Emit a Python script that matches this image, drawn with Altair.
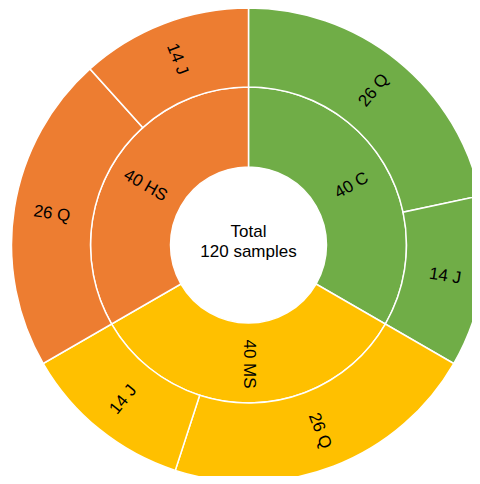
import altair as alt
import pandas as pd

# Inner ring
inner_labels = ["C", "MS", "HS"]
inner_values = [40, 40, 40]

# Outer ring
outer_parents = ["C", "C", "MS", "MS", "HS", "HS"]
outer_labels = ["Q", "J", "Q", "J", "Q", "J"]
outer_values = [26, 14, 26, 14, 26, 14]

group_colors = ["#70AD47", "#FFC000", "#ED7D31"]

total = sum(inner_values)


def ring_frame(parents, labels, values, ring):
    rows = []
    cum = 0
    for p, l, v in zip(parents, labels, values):
        rows.append({"ring": ring, "parent": p, "label": f"{v} {l}",
                     "start": cum, "end": cum + v, "mid": cum + v / 2})
        cum += v
    return rows


df = pd.DataFrame(ring_frame(inner_labels, inner_labels, inner_values, "inner")
                  + ring_frame(outer_parents, outer_labels, outer_values, "outer"))

CX, CY = 240.5, 237
theta_scale = alt.Scale(domain=[0, total], range=[0, 6.283185307179586])
color_scale = alt.Scale(domain=inner_labels, range=group_colors)

base = alt.Chart(df).transform_calculate(
    rot="datum.mid * 360 / %d - 90" % total
).transform_calculate(
    ang="((datum.rot > 90 ? datum.rot - 180 : datum.rot) + 360) % 360"
)

def arcs(ring, r_out, r_in):
    return base.transform_filter(alt.datum.ring == ring).mark_arc(
        radius=r_out, radius2=r_in, stroke="white", strokeWidth=1.5
    ).encode(
        theta=alt.Theta("start:Q", stack=None, scale=theta_scale),
        theta2="end:Q",
        color=alt.Color("parent:N", scale=color_scale, legend=None),
        x=alt.value(CX), y=alt.value(CY),
    )

def labels(ring, r):
    return base.transform_filter(alt.datum.ring == ring).mark_text(
        radius=r, font="Liberation Sans", fontSize=17, color="black",
        align="center", baseline="middle"
    ).encode(
        theta=alt.Theta("mid:Q", stack=None, scale=theta_scale),
        text="label:N",
        angle=alt.Angle("ang:Q", scale=None),
        x=alt.value(CX), y=alt.value(CY),
    )

center = alt.Chart(pd.DataFrame({"t": [f"Total\n{total} samples"]})).mark_text(
    font="Liberation Sans", fontSize=17, color="black", lineBreak="\n",
    lineHeight=20, align="center", baseline="middle"
).encode(text="t:N", x=alt.value(CX), y=alt.value(CY - 13))

chart = alt.layer(
    arcs("inner", 158, 78), arcs("outer", 237, 158),
    labels("inner", 119), labels("outer", 199), center
).properties(
    width=464, height=468, padding=0,
    autosize=alt.AutoSizeParams(type="none"), background="white"
).configure_view(strokeWidth=0)

chart.save("out.html", embed_options={"renderer": "svg", "actions": False})
